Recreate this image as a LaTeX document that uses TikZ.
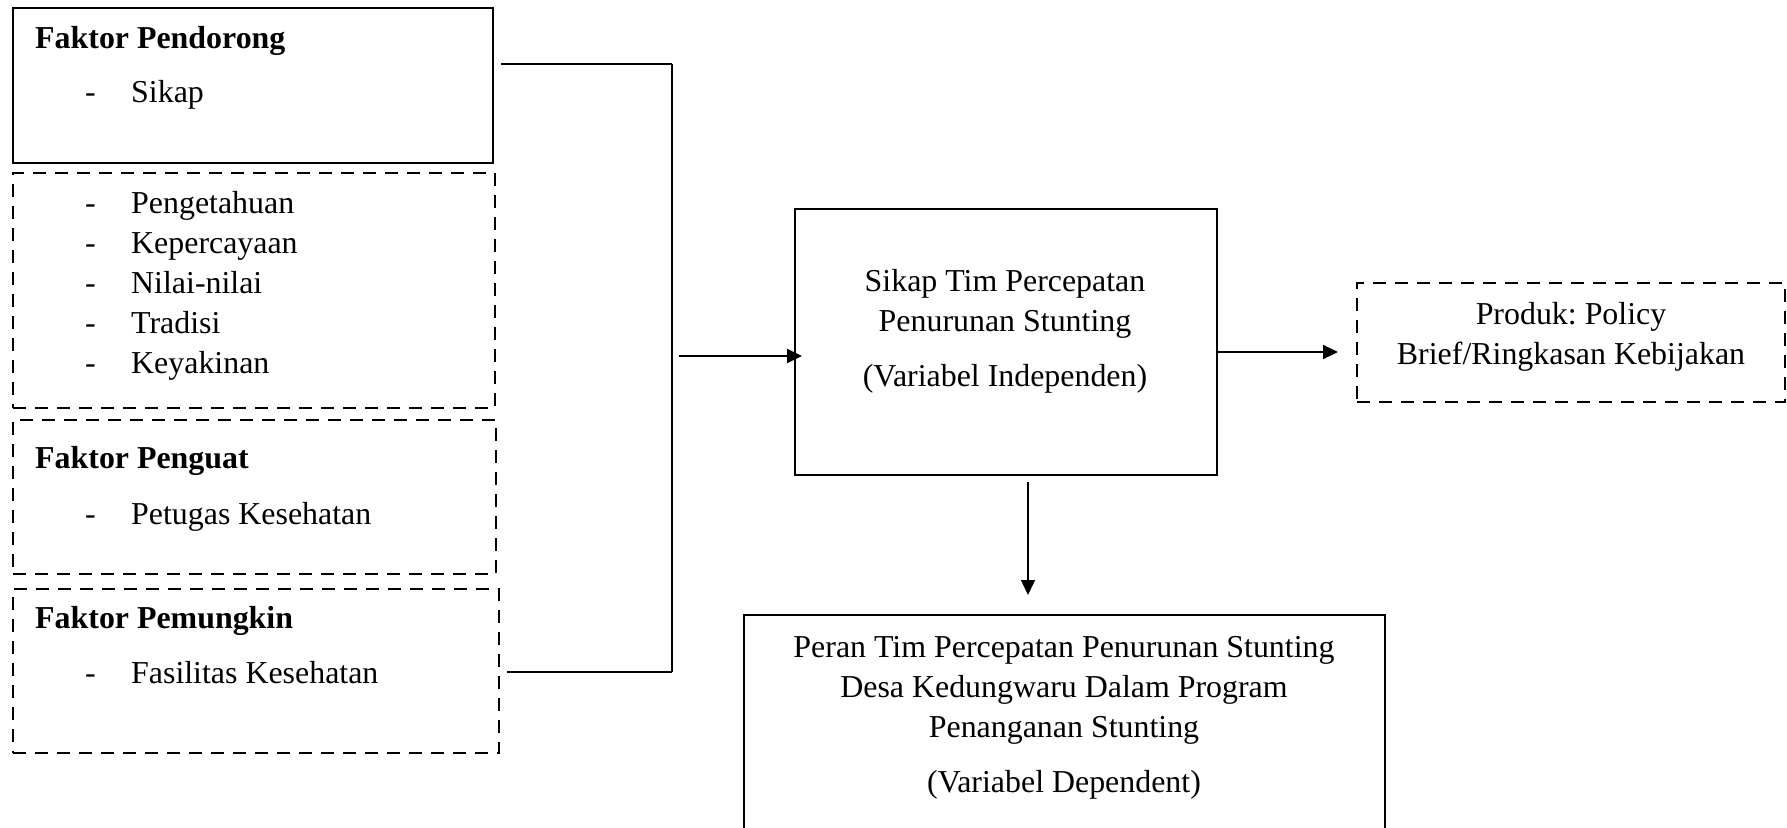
\documentclass[tikz,border=0pt]{standalone}
\usepackage{fontspec}
\setmainfont{Liberation Serif}
\usetikzlibrary{arrows.meta}
\frenchspacing
\tikzset{
  box/.style={draw, line width=2.4pt, rectangle, inner sep=0pt},
  dbox/.style={box, dash pattern=on 13pt off 9pt},
  txt/.style={anchor=base west, inner sep=0pt, font=\fontsize{31.9}{40}\selectfont},
  ctxt/.style={anchor=base, inner sep=0pt, font=\fontsize{31.9}{40}\selectfont},
  bf/.style={txt, font=\fontsize{31.9}{40}\selectfont\bfseries},
  conn/.style={line width=2pt},
  thinconn/.style={line width=1.3pt},
  arr/.style={-{Triangle[length=15pt,width=14pt]}}
}
\begin{document}
\begin{tikzpicture}[x=1pt,y=-1pt]
\useasboundingbox[fill=white] (0,0) rectangle (1787,827);
% left boxes
\node[box, minimum width=480pt, minimum height=155pt] (b1) at (253,85.5) {};
\node[dbox, minimum width=482pt, minimum height=235pt] (b2) at (254,290.5) {};
\node[dbox, minimum width=483pt, minimum height=154pt] (b3) at (254.5,497) {};
\node[dbox, minimum width=486pt, minimum height=164pt] (b4) at (256,671) {};
% texts left
\node[bf] (t1) at (35,48) {Faktor Pendorong};
\node[txt] (d1) at (85,102) {-};
\node[txt] (s1) at (131,102) {Sikap};
\node[txt] (d2) at (85,213) {-};
\node[txt] (s2) at (131,213) {Pengetahuan};
\node[txt] (d3) at (85,253) {-};
\node[txt] (s3) at (131,253) {Kepercayaan};
\node[txt] (d4) at (85,293) {-};
\node[txt] (s4) at (131,293) {Nilai-nilai};
\node[txt] (d5) at (85,333) {-};
\node[txt] (s5) at (131,333) {Tradisi};
\node[txt] (d6) at (85,373) {-};
\node[txt] (s6) at (131,373) {Keyakinan};
\node[bf] (t3) at (35,468) {Faktor Penguat};
\node[txt] (d7) at (85,524) {-};
\node[txt] (s7) at (131,524) {Petugas Kesehatan};
\node[bf] (t4) at (35,628) {Faktor Pemungkin};
\node[txt] (d8) at (85,683) {-};
\node[txt] (s8) at (131,683) {Fasilitas Kesehatan};
% center box
\node[box, minimum width=422pt, minimum height=266pt] (c) at (1006,342) {};
\node[ctxt] (c1) at (1005,291) {Sikap Tim Percepatan};
\node[ctxt] (c2) at (1005,331) {Penurunan Stunting};
\node[ctxt] (c3) at (1005,386) {(Variabel Independen)};
% policy box
\node[dbox, minimum width=428pt, minimum height=119pt] (p) at (1571,342.5) {};
\node[ctxt] (p1) at (1571,324) {Produk: Policy};
\node[ctxt] (p2) at (1571,364) {Brief/Ringkasan Kebijakan};
% bottom box
\node[box, minimum width=641pt, minimum height=285pt] (d) at (1064.5,757.5) {};
\node[ctxt] (e1) at (1064,657) {Peran Tim Percepatan Penurunan Stunting};
\node[ctxt] (e2) at (1064,697) {Desa Kedungwaru Dalam Program};
\node[ctxt] (e3) at (1064,737) {Penanganan Stunting};
\node[ctxt] (e4) at (1064,792) {(Variabel Dependent)};
% connectors
\coordinate (j0) at (501,64);
\coordinate (j1) at (672,64);
\coordinate (j2) at (672,672);
\coordinate (j3) at (507,672);
\draw[conn] (j0) -- (j1);
\draw[thinconn] (j1) -- (j2);
\draw[conn] (j2) -- (j3);
\coordinate (in1) at (679,356);
\coordinate (in2) at (802,356);
\draw[conn,arr] (in1) -- (in2);
\coordinate (r1) at (1217,352);
\coordinate (r2) at (1338,352);
\draw[conn,arr] (r1) -- (r2);
\coordinate (v1) at (1028,482);
\coordinate (v2) at (1028,595);
\draw[thinconn,arr] (v1) -- (v2);
\end{tikzpicture}
\end{document}
